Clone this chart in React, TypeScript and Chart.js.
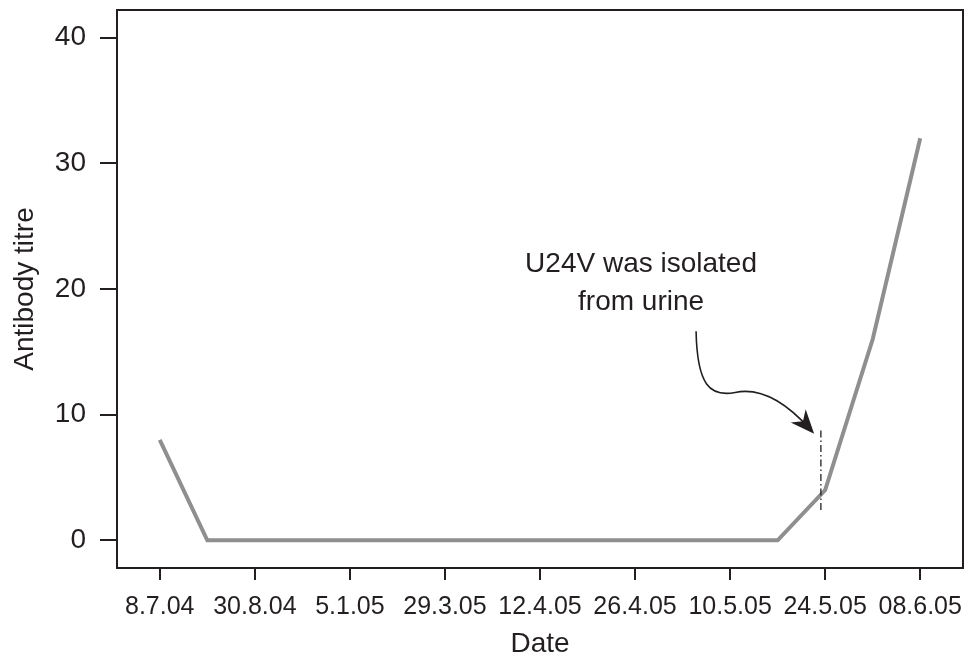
import React, { useEffect, useRef } from "react";
import { Chart, registerables } from "chart.js";

Chart.register(...registerables);

// ---- data ----
const tickLabels = ["8.7.04", "30.8.04", "5.1.05", "29.3.05", "12.4.05", "26.4.05", "10.5.05", "24.5.05", "08.6.05"];
const tickPositions = [0, 1, 2, 3, 4, 5, 6, 7, 8];
const sampleX = [0, 0.5, 6.5, 7, 7.5, 8];
const titreValues = [8, 0, 0, 4, 16, 32];
const yTickValues = [0, 10, 20, 30, 40];

// annotation (data units)
const noteLines = ["U24V was isolated", "from urine"];
const noteAnchor = { x: 5.063, y1: 21.32, y2: 18.3 };
const isolationX = 6.955;
const isolationRange = [2.39, 8.75];
const arrowPath = [
  [5.642, 16.63],
  [5.653, 12.33], [5.789, 11.38], [6.053, 11.77],
  [6.316, 12.17], [6.58, 11.06], [6.842, 8.83],
];

const INK = "#231f20";
const FONT = "'Liberation Sans', Arial, Helvetica, sans-serif";

const boxAndNotes = {
  id: "boxAndNotes",
  afterDatasetsDraw(chart: any) {
    const { ctx, chartArea, scales } = chart;
    const xs = scales.x;
    const ys = scales.y;
    const px = (v: number) => xs.getPixelForValue(v);
    const py = (v: number) => ys.getPixelForValue(v);
    ctx.save();
    // box
    ctx.strokeStyle = INK;
    ctx.lineWidth = 2;
    ctx.strokeRect(chartArea.left, chartArea.top, chartArea.right - chartArea.left, chartArea.bottom - chartArea.top);

    // dash-dot line
    ctx.beginPath();
    ctx.setLineDash([7, 3, 1.5, 3]);
    ctx.lineWidth = 1.3;
    ctx.moveTo(px(isolationX), py(isolationRange[1]));
    ctx.lineTo(px(isolationX), py(isolationRange[0]));
    ctx.stroke();
    ctx.setLineDash([]);

    // curved arrow
    const p = arrowPath.map(([a, b]) => [px(a), py(b)]);
    ctx.beginPath();
    ctx.lineWidth = 1.6;
    ctx.moveTo(p[0][0], p[0][1]);
    ctx.bezierCurveTo(p[1][0], p[1][1], p[2][0], p[2][1], p[3][0], p[3][1]);
    ctx.bezierCurveTo(p[4][0], p[4][1], p[5][0], p[5][1], p[6][0], p[6][1]);
    ctx.stroke();
    // arrow head
    const end = p[6];
    const prev = p[5];
    const ang = Math.atan2(end[1] - prev[1], end[0] - prev[0]);
    const tipX = end[0] + Math.cos(ang) * 6;
    const tipY = end[1] + Math.sin(ang) * 6;
    const L = 24;
    const W = 10;
    const bx = tipX - Math.cos(ang) * L;
    const by = tipY - Math.sin(ang) * L;
    const nx = -Math.sin(ang);
    const ny = Math.cos(ang);
    const notchX = tipX - Math.cos(ang) * L * 0.7;
    const notchY = tipY - Math.sin(ang) * L * 0.7;
    ctx.beginPath();
    ctx.fillStyle = INK;
    ctx.moveTo(tipX, tipY);
    ctx.lineTo(bx + nx * W, by + ny * W);
    ctx.lineTo(notchX, notchY);
    ctx.lineTo(bx - nx * W, by - ny * W);
    ctx.closePath();
    ctx.fill();

    // note text
    ctx.font = `28px ${FONT}`;
    ctx.fillStyle = INK;
    ctx.textAlign = "center";
    ctx.textBaseline = "alphabetic";
    ctx.fillText(noteLines[0], px(noteAnchor.x), py(noteAnchor.y1));
    ctx.fillText(noteLines[1], px(noteAnchor.x), py(noteAnchor.y2));
    ctx.restore();
  },
};

export default function App() {
  const ref = useRef<HTMLCanvasElement | null>(null);
  useEffect(() => {
    if (!ref.current) return;
    const chart = new Chart(ref.current, {
      type: "line",
      data: {
        datasets: [
          {
            data: sampleX.map((x, i) => ({ x, y: titreValues[i] })),
            borderColor: "#8f8f8f",
            borderWidth: 4,
            pointRadius: 0,
            tension: 0,
            fill: false,
          },
        ],
      },
      options: {
        responsive: false,
        animation: false,
        layout: { padding: { top: 10, right: 6, left: 0, bottom: 0 } },
        plugins: { legend: { display: false }, tooltip: { enabled: false } },
        scales: {
          x: {
            type: "linear",
            min: -0.45,
            max: 8.45,
            afterBuildTicks: (s: any) => {
              s.ticks = tickPositions.map((v) => ({ value: v }));
            },
            afterFit: (s: any) => {
              s.height = 95;
              s.paddingLeft = 0;
              s.paddingRight = 0;
              s.paddingTop = 0;
              s.paddingBottom = 0;
            },
            ticks: {
              autoSkip: false,
              maxRotation: 0,
              color: INK,
              padding: 12,
              font: { family: FONT, size: 25 },
              callback: (v: any) => tickLabels[tickPositions.indexOf(Number(v))] ?? "",
            },
            grid: { drawOnChartArea: false, drawTicks: true, tickLength: 12, color: INK, lineWidth: 2 },
            border: { display: false },
            title: {
              display: true,
              text: "Date",
              color: INK,
              font: { family: FONT, size: 28 },
              padding: { top: 0, bottom: 2 },
            },
          },
          y: {
            type: "linear",
            min: -2.2,
            max: 42.2,
            afterBuildTicks: (s: any) => {
              s.ticks = yTickValues.map((v) => ({ value: v }));
            },
            afterFit: (s: any) => {
              s.width = 117;
              s.paddingLeft = 0;
              s.paddingRight = 0;
              s.paddingTop = 0;
              s.paddingBottom = 0;
            },
            ticks: {
              color: INK,
              padding: 14,
              font: { family: FONT, size: 28 },
            },
            grid: { drawOnChartArea: false, drawTicks: true, tickLength: 17, color: INK, lineWidth: 2 },
            border: { display: false },
            title: {
              display: true,
              text: "Antibody titre",
              color: INK,
              font: { family: FONT, size: 28 },
              padding: { top: 8, bottom: 0 },
            },
          },
        },
      },
      plugins: [boxAndNotes],
    });
    return () => chart.destroy();
  }, []);
  return (
    <div style={{ position: "fixed", left: 0, top: 0, width: 969, height: 663, background: "#fff" }}>
      <canvas ref={ref} width={969} height={663} style={{ display: "block" }} />
    </div>
  );
}
